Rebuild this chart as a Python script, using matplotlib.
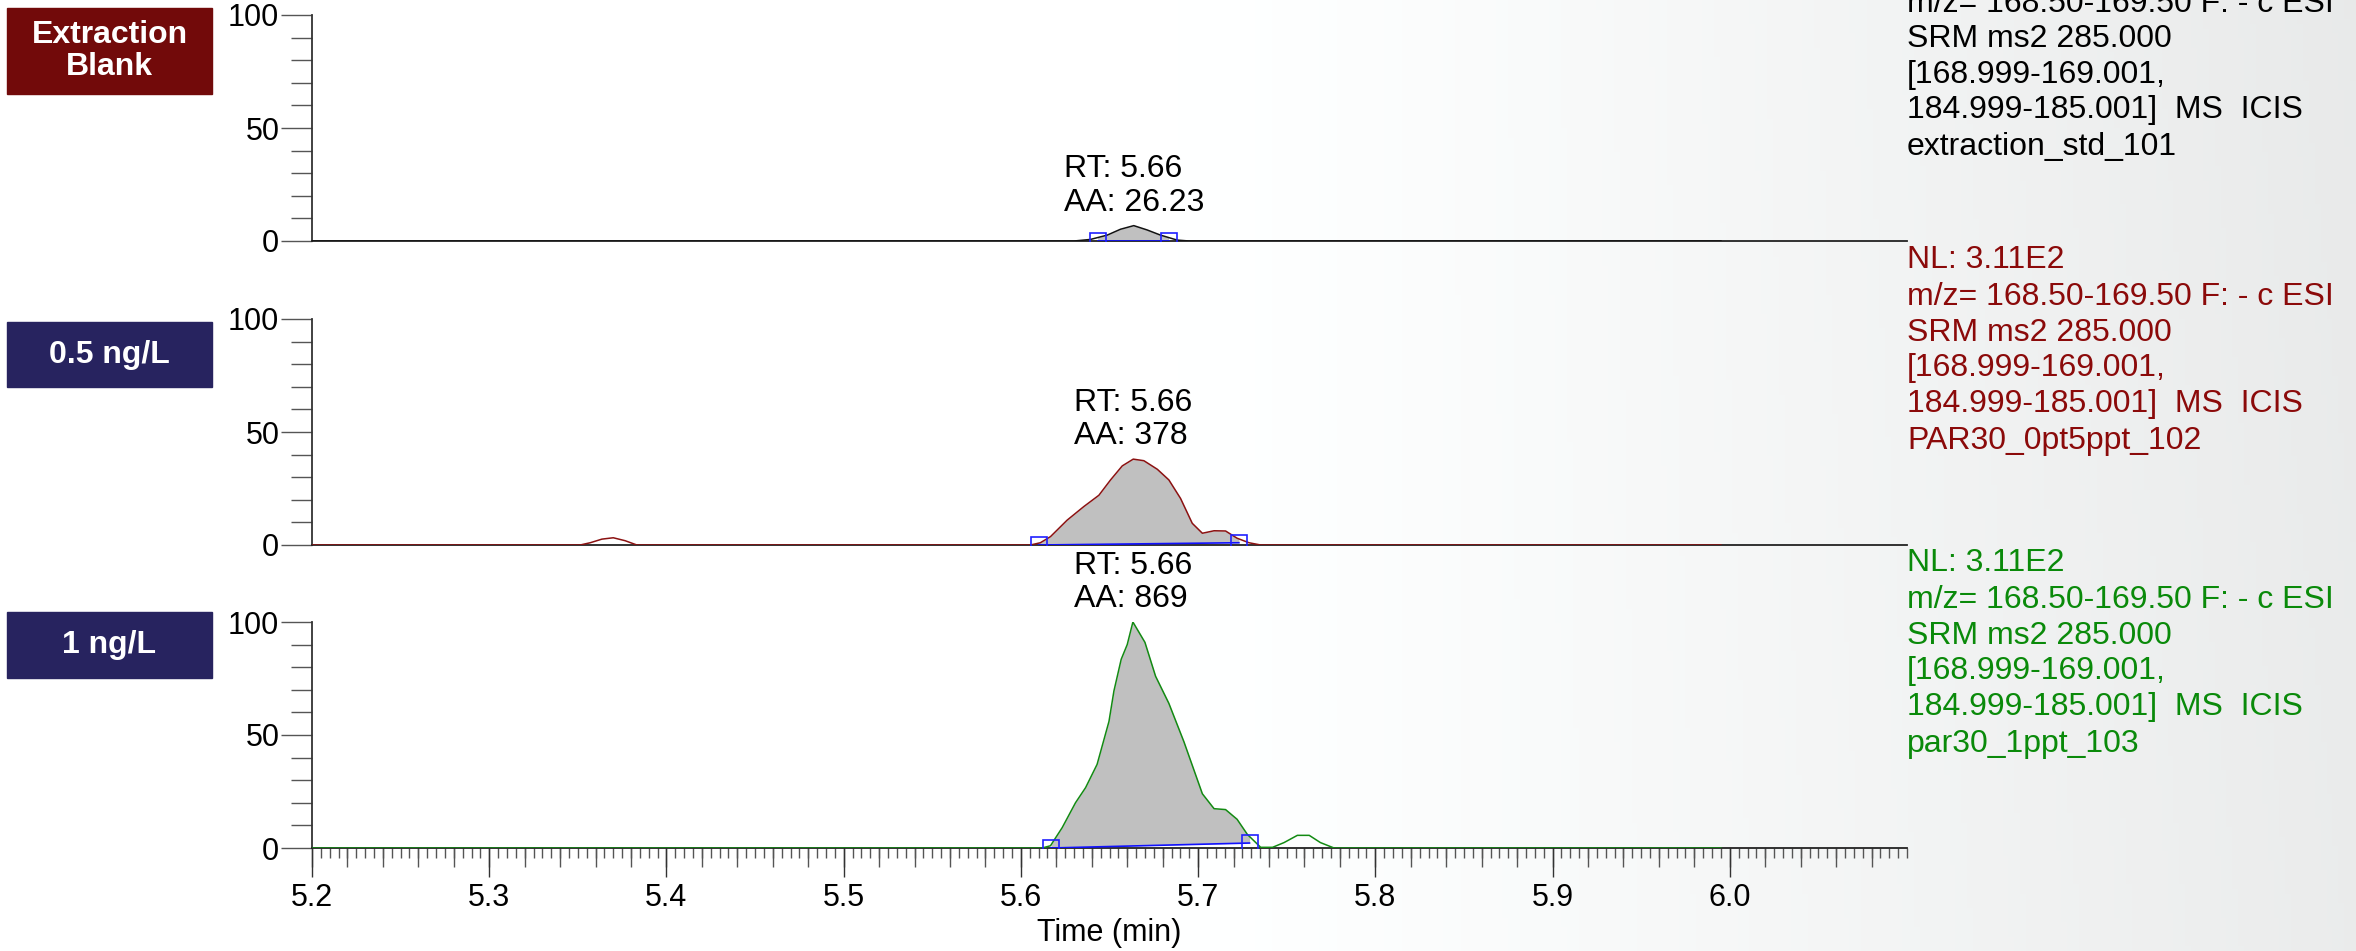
import numpy as np
import matplotlib.pyplot as plt
from matplotlib.patches import Rectangle
from matplotlib.ticker import MultipleLocator, FixedLocator

plt.rcParams['font.family'] = ['Liberation Sans', 'DejaVu Sans']

# sample names / colours
sample_labels = ['Extraction\nBlank', '0.5 ng/L', '1 ng/L']
box_colors = ['#720a0a', '#27235f', '#27235f']
trace_colors = ['#111111', '#8b1111', '#128a12']
info_colors = ['#000000', '#8b0a0a', '#0a8a0a']
file_names = ['extraction_std_101', 'PAR30_0pt5ppt_102', 'par30_1ppt_103']

# chromatogram traces (time in min, relative abundance)
blank_t = [5.2, 5.630, 5.6393, 5.6487, 5.6562, 5.6637, 5.6712, 5.6788, 5.6882, 5.695, 5.995]
blank_y = [0, 0, 0.7, 2.6, 5.2, 6.8, 4.9, 2.6, 0.4, 0, 0]

half_t = [5.2, 5.3513, 5.357, 5.3636, 5.370, 5.3767, 5.3833, 5.6054, 5.611, 5.6167,
          5.6261, 5.6355, 5.644, 5.6506, 5.6572, 5.6634, 5.6694, 5.677, 5.6835,
          5.6901, 5.6967, 5.7024, 5.709, 5.7155, 5.722, 5.7287, 5.7353, 5.995]
half_y = [0, 0, 1, 2.6, 3.2, 1.9, 0, 0, 1, 3.7,
          11, 17, 22, 28.8, 35, 38, 37.3, 33.5, 28.8,
          20.6, 9.6, 5.2, 6.3, 6.2, 3, 1, 0, 0]

one_t = [5.2, 5.612, 5.6167, 5.6233, 5.6308, 5.6365, 5.643, 5.6497, 5.6525, 5.6566,
         5.66, 5.6632, 5.67, 5.676, 5.6835, 5.692, 5.7024, 5.709, 5.7155, 5.722,
         5.7278, 5.7353, 5.742, 5.7485, 5.756, 5.7627, 5.769, 5.7767, 5.995]
one_y = [0, 0, 1, 9, 20, 26.7, 37, 56, 69.5, 83.5,
         90, 100, 91, 76, 64, 47, 24, 17.4, 17, 12.7,
         6, 0.3, 0.3, 2.4, 5.6, 5.6, 2.4, 0, 0]

traces_t = [blank_t, half_t, one_t]
traces_y = [blank_y, half_y, one_y]

# peak annotation
rt_values = ['5.66', '5.66', '5.66']
aa_values = ['26.23', '378', '869']
peak_start = [5.6433, 5.610, 5.617]
peak_end = [5.6833, 5.723, 5.729]
base_start = [0, 0, 0]
base_end = [0, 1, 2.2]

# right-hand header text
nl_text = 'NL: 3.11E2'
scan_lines = ['m/z= 168.50-169.50 F: - c ESI', 'SRM ms2 285.000',
              '[168.999-169.001,', '184.999-185.001]  MS  ICIS']
info_y = [122.5, 106, 90.2, 74.6, 58.8, 42.6]
info_shift = [-4.5, 0, 0]

W, H = 2356, 951
fig = plt.figure(figsize=(W / 100, H / 100), dpi=100)

# grey gradient background
bg = fig.add_axes([0, 0, 1, 1], zorder=-10)
gx = np.linspace(0, 1, 400)
gy = np.linspace(0, 1, 200)
X, Y = np.meshgrid(gx, gy)
v = 1 - 0.08 * np.clip((X - 0.5) / 0.5, 0, 1) ** 1.1 - 0.008 * Y * np.clip((X - 0.6) / 0.4, 0, 1)
img = np.dstack([v, np.clip(v + 0.005, 0, 1), np.clip(v + 0.005, 0, 1)])
bg.imshow(img, extent=[0, 1, 0, 1], aspect='auto', origin='lower')
bg.axis('off')

left = 312 / W
width = (1907 - 312) / W
tops = [15, 319, 622]
ph = 226

label_boxes = [(8, 94), (322, 387), (612, 678)]

axes = []
for i in range(3):
    bottom = 1 - (tops[i] + ph) / H
    ax = fig.add_axes([left, bottom, width, ph / H])
    ax.set_facecolor('none')
    axes.append(ax)
    t = np.array(traces_t[i])
    y = np.array(traces_y[i])

    # integrated area
    xs = np.concatenate([[peak_start[i]], t[(t > peak_start[i]) & (t < peak_end[i])], [peak_end[i]]])
    ys = np.interp(xs, t, y)
    bl = np.interp(xs, [peak_start[i], peak_end[i]], [base_start[i], base_end[i]])
    ax.fill_between(xs, bl, ys, color='#c0c0c0', lw=0, zorder=1)
    ax.plot(t, y, color=trace_colors[i], lw=1.1, zorder=3)
    ax.plot([peak_start[i], peak_end[i]], [base_start[i], base_end[i]], color='#1010ff',
            lw=1.2, marker='s', ms=11, mfc='none', mec='#2020ff', mew=1.2, zorder=4)

    ax.text(t[np.argmax(y)], max(y) + 3.5,
            'RT: %s\nAA: %s' % (rt_values[i], aa_values[i]),
            ha='center', va='bottom', multialignment='left', fontsize=23, linespacing=1.15)

    ax.set_xlim(5.2, 6.1)
    ax.set_ylim(0, 100)
    ax.spines['top'].set_visible(False)
    ax.spines['right'].set_visible(False)
    ax.spines['left'].set_color('#333333')
    ax.spines['bottom'].set_color('#222222')
    ax.spines['left'].set_linewidth(1.3)
    ax.spines['bottom'].set_linewidth(1.3)
    ax.set_yticks([0, 50, 100])
    ax.yaxis.set_minor_locator(MultipleLocator(10))
    ax.tick_params(axis='y', which='major', length=22, width=1, color='#555555',
                   labelsize=22, pad=1.5)
    ax.tick_params(axis='y', which='minor', length=15, width=1, color='#555555')

    if i < 2:
        ax.set_xticks([])
    else:
        ax.xaxis.set_major_locator(FixedLocator(np.round(np.arange(5.2, 6.01, 0.1), 1)))
        ax.xaxis.set_minor_locator(MultipleLocator(0.005))
        ax.set_xticklabels(['%.1f' % v for v in np.arange(5.2, 6.01, 0.1)])
        ax.tick_params(axis='x', which='major', length=21, width=1, color='#333333',
                       labelsize=22, pad=4)
        ax.tick_params(axis='x', which='minor', length=7, width=1, color='#555555')
        sec = ax.secondary_xaxis('bottom')
        sec.set_xticks(np.arange(5.2, 6.09, 0.02))
        sec.tick_params(length=14, width=1, color='#555555', labelbottom=False)
        sec.spines['bottom'].set_visible(False)
        ax.set_xlabel('Time (min)', fontsize=22, labelpad=4)

    # header text right of the panel
    tr = ax.get_yaxis_transform()
    lines = [nl_text] + scan_lines + [file_names[i]]
    for ln, yy in zip(lines, info_y):
        ax.text(1.0, yy + info_shift[i], ln, transform=tr, color=info_colors[i],
                fontsize=23, va='baseline', ha='left', clip_on=False)

    # sample label box
    y0, y1 = label_boxes[i]
    fig.patches.append(Rectangle((7 / W, 1 - y1 / H), 205 / W, (y1 - y0) / H,
                                 transform=fig.transFigure, color=box_colors[i], zorder=5))
    fig.text(109.5 / W, 1 - (y0 + y1) / 2 / H, sample_labels[i], color='white',
             fontsize=23, fontweight='bold', ha='center', va='center',
             linespacing=1.1, zorder=6)

fig.savefig('out.png', dpi=100)
